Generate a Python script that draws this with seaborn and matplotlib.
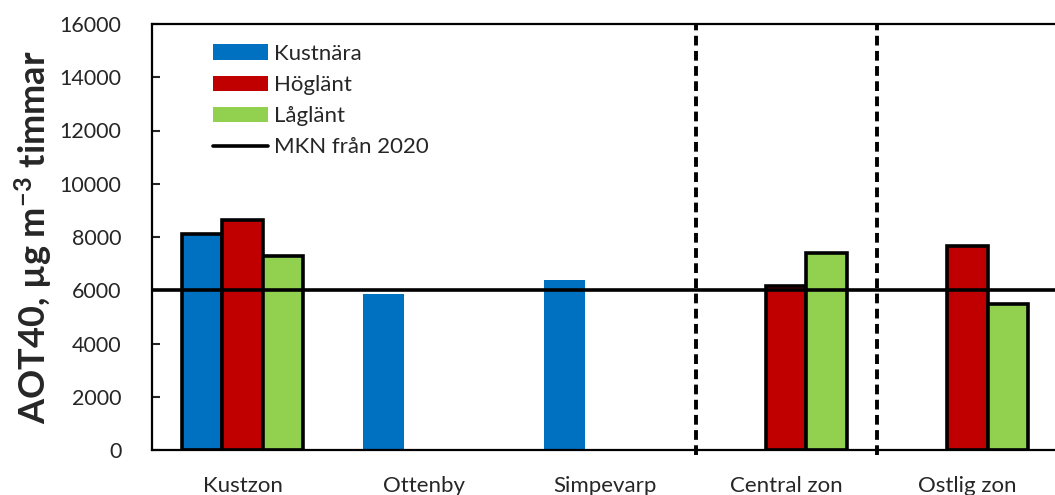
import matplotlib
matplotlib.use("Agg")
import matplotlib.pyplot as plt
import seaborn as sns
import pandas as pd
import numpy as np
from matplotlib.patches import Patch
from matplotlib.lines import Line2D

sns.set_style("ticks")
plt.rcParams['font.family'] = ['Lato', 'DejaVu Sans']
plt.rcParams['mathtext.default'] = 'regular'

# data
sites = ["Kustzon", "Ottenby", "Simpevarp", "Central zon", "Ostlig zon"]
groups = ["Kustnära", "Höglänt", "Låglänt"]
kustnara = [8100, 5850, 6400, np.nan, np.nan]
hoglant = [8650, np.nan, np.nan, 6150, 7650]
laglant = [7300, np.nan, np.nan, 7400, 5500]
mkn = 6000
colors = ["#0070C0", "#C00000", "#92D050"]

df = pd.DataFrame({"site": sites * 3,
                   "group": [g for g in groups for _ in sites],
                   "value": kustnara + hoglant + laglant})
df = df.dropna()

fig = plt.figure(figsize=(10.55, 4.95), dpi=100)
ax = fig.add_axes([152/1055, 45/495, 906/1055, 426/495])

sns.barplot(data=df, x="site", y="value", hue="group", order=sites, hue_order=groups,
            palette=colors, width=0.67, dodge=True, gap=0, saturation=1,
            edgecolor="black", linewidth=2.6, legend=False, ax=ax)

# the single station bars have no black edge
for p in ax.patches:
    cx = p.get_x() + p.get_width() / 2
    if 0.5 < cx < 2.5:
        p.set_linewidth(0)

ax.axhline(mkn, color="black", lw=2.6, zorder=5)
for xv in [2.5, 3.5]:
    ax.axvline(xv, ymin=-0.012, ymax=1, color="black", lw=2.8,
               ls=(0, (2.5, 1.4)), clip_on=False, zorder=5)

ax.set_xlim(-0.5, 4.5)
ax.set_ylim(0, 16000)
ax.set_yticks(np.arange(0, 16001, 2000))
ax.set_xlabel("")
ax.set_ylabel("AOT40, µg m$^{-3}$ timmar", fontsize=26, fontweight="bold", labelpad=4)
ax.tick_params(axis="y", direction="in", length=6, width=1.5, labelsize=15.5, pad=22)
ax.tick_params(axis="x", length=0, labelsize=16, pad=19)

for s in ["left", "top", "bottom"]:
    ax.spines[s].set_linewidth(1.6)
    ax.spines[s].set_color("black")
ax.spines["right"].set_visible(False)

handles = [Patch(facecolor=c, edgecolor="none") for c in colors]
handles.append(Line2D([0], [0], color="black", lw=2.6))
ax.legend(handles, groups + ["MKN från 2020"], loc="upper left",
          bbox_to_anchor=(0.045, 1.0), frameon=False, fontsize=16,
          handlelength=2.5, handleheight=0.7, handletextpad=0.25, labelspacing=0.5)

fig.savefig("out.png", dpi=100)
